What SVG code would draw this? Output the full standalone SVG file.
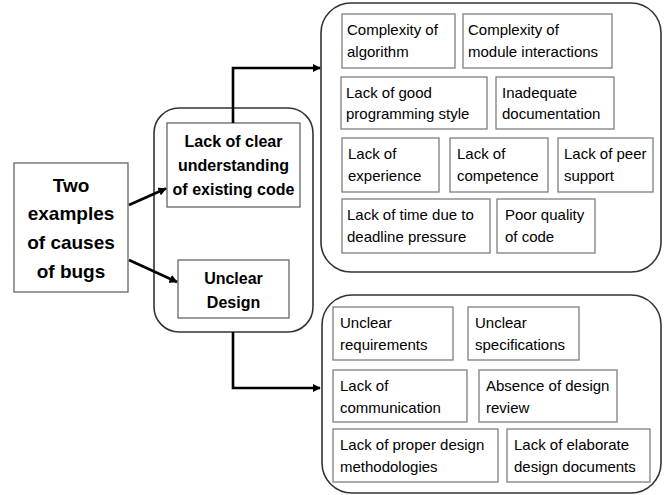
<svg xmlns="http://www.w3.org/2000/svg" width="666" height="495" viewBox="0 0 666 495">
<defs>
<marker id="ah" viewBox="0 0 10 10" refX="9" refY="5" markerWidth="3.2" markerHeight="3.2" orient="auto" markerUnits="strokeWidth">
<path d="M0,0 L10,5 L0,10 z" fill="#000"/>
</marker>
<style>
.cont{fill:none;stroke:#333;stroke-width:1.6}
.box{fill:#fff;stroke:#7f7f7f;stroke-width:1.3}
.mbox{fill:#fff;stroke:#666;stroke-width:1.3}
.t{font-family:"Liberation Sans",Arial,sans-serif;font-size:15px;fill:#000}
.b{font-family:"Liberation Sans",Arial,sans-serif;font-weight:bold;font-size:16px;fill:#000;text-anchor:middle}
.bl{font-family:"Liberation Sans",Arial,sans-serif;font-weight:bold;font-size:19px;fill:#000;text-anchor:middle}
.c{fill:none;stroke:#000;stroke-width:2.6}
</style>
</defs>
<rect width="666" height="495" fill="#fff"/>

<g id="containers">
<rect id="mid-container" class="cont" x="154" y="108" width="159" height="224" rx="25"/>
<rect id="top-container" class="cont" x="321" y="3" width="340" height="269" rx="30"/>
<rect id="bottom-container" class="cont" x="322" y="295" width="339" height="198" rx="30"/>
</g>

<g id="root">
<rect class="mbox" x="14" y="163" width="114" height="129"/>
<text class="bl" x="71" y="192">Two</text>
<text class="bl" x="71" y="220">examples</text>
<text class="bl" x="71" y="249">of causes</text>
<text class="bl" x="71" y="278">of bugs</text>
</g>

<g id="lack-understanding">
<rect class="mbox" x="167" y="123" width="133" height="84"/>
<text class="b" x="233.5" y="147">Lack of clear</text>
<text class="b" x="233.5" y="171">understanding</text>
<text class="b" x="233.5" y="195">of existing code</text>
</g>

<g id="unclear-design">
<rect class="mbox" x="178" y="260" width="111" height="58"/>
<text class="b" x="233.5" y="284">Unclear</text>
<text class="b" x="233.5" y="308">Design</text>
</g>

<g id="connectors">
<line class="c" x1="129" y1="205" x2="166" y2="188.5" marker-end="url(#ah)"/>
<line class="c" x1="129" y1="260" x2="177" y2="282" marker-end="url(#ah)"/>
<polyline class="c" points="233,123 233,68 320,68" marker-end="url(#ah)"/>
<polyline class="c" points="233,332 233,388 320,388" marker-end="url(#ah)"/>
</g>

<g id="n1"><rect class="box" x="342" y="14" width="113" height="54"/><text class="t" x="347" y="35">Complexity of</text><text class="t" x="347" y="57">algorithm</text></g>
<g id="n2"><rect class="box" x="463" y="14" width="149" height="54"/><text class="t" x="468" y="35">Complexity of</text><text class="t" x="468" y="57">module interactions</text></g>
<g id="n3"><rect class="box" x="341" y="77" width="146" height="52"/><text class="t" x="346" y="98">Lack of good</text><text class="t" x="346" y="119">programming style</text></g>
<g id="n4"><rect class="box" x="496" y="77" width="118" height="52"/><text class="t" x="502" y="98">Inadequate</text><text class="t" x="502" y="119">documentation</text></g>
<g id="n5"><rect class="box" x="342" y="138" width="97" height="54"/><text class="t" x="348" y="159">Lack of</text><text class="t" x="348" y="181">experience</text></g>
<g id="n6"><rect class="box" x="450" y="138" width="98" height="54"/><text class="t" x="457" y="159">Lack of</text><text class="t" x="457" y="181">competence</text></g>
<g id="n7"><rect class="box" x="558" y="138" width="95" height="54"/><text class="t" x="564" y="159">Lack of peer</text><text class="t" x="564" y="181">support</text></g>
<g id="n8"><rect class="box" x="342" y="199" width="148" height="54"/><text class="t" x="347" y="220">Lack of time due to</text><text class="t" x="347" y="242">deadline pressure</text></g>
<g id="n9"><rect class="box" x="497" y="199" width="98" height="54"/><text class="t" x="505" y="220">Poor quality</text><text class="t" x="505" y="242">of code</text></g>

<g id="m1"><rect class="box" x="333" y="307" width="120" height="53"/><text class="t" x="340" y="328">Unclear</text><text class="t" x="340" y="350">requirements</text></g>
<g id="m2"><rect class="box" x="468" y="307" width="111" height="53"/><text class="t" x="475" y="328">Unclear</text><text class="t" x="475" y="350">specifications</text></g>
<g id="m3"><rect class="box" x="333" y="370" width="134" height="52"/><text class="t" x="340" y="391">Lack of</text><text class="t" x="340" y="413">communication</text></g>
<g id="m4"><rect class="box" x="479" y="370" width="138" height="52"/><text class="t" x="486" y="391">Absence of design</text><text class="t" x="486" y="413">review</text></g>
<g id="m5"><rect class="box" x="333" y="429" width="165" height="53"/><text class="t" x="340" y="450">Lack of proper design</text><text class="t" x="340" y="472">methodologies</text></g>
<g id="m6"><rect class="box" x="507" y="429" width="143" height="53"/><text class="t" x="514" y="450">Lack of elaborate</text><text class="t" x="514" y="472">design documents</text></g>
</svg>
